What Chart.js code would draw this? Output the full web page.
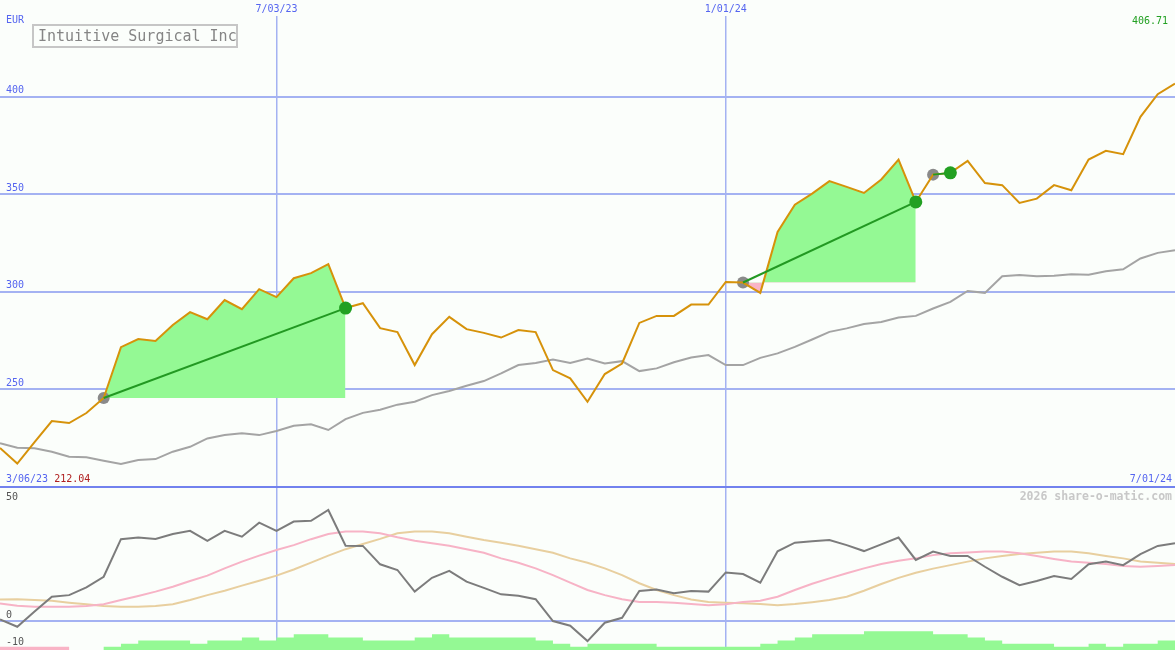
<!DOCTYPE html>
<html>
<head>
<meta charset="utf-8">
<title>Intuitive Surgical Inc</title>
<script src="https://cdn.jsdelivr.net/npm/chart.js@4.4.1/dist/chart.umd.min.js"></script>
<style>
  html, body { margin: 0; padding: 0; background: #fbfefb; }
  #wrap { position: relative; width: 1175px; height: 650px; overflow: hidden; font-family: "DejaVu Sans Mono", monospace; }
  canvas { position: absolute; left: 0; }
  #priceChart { top: 0; }
  #oscChart { top: 485px; }
  .lbl { position: absolute; font-size: 10px; line-height: 12px; white-space: nowrap; color: #5565f0; }
  #title { position: absolute; left: 32px; top: 24px; width: 206px; height: 24px; box-sizing: border-box;
           border: 2px solid #c6c6c6; color: #858585; font-size: 15px; line-height: 20px; padding-left: 4px; white-space: nowrap; }
  #mark { position: absolute; right: 3px; top: 489px; font-size: 11.5px; line-height: 14px; font-weight: bold; color: #c8c8c8; }
</style>
</head>
<body>
<div id="wrap">
  <canvas id="priceChart" width="1175" height="487"></canvas>
  <canvas id="oscChart" width="1175" height="165"></canvas>
  <div id="title">Intuitive Surgical Inc</div>
  <div class="lbl" style="left:6px;top:14px">EUR</div>
  <div class="lbl" id="lastPx" style="right:7px;top:15px;color:#22a022"></div>
  <div class="lbl" style="left:6px;top:473px"><span id="startLbl"></span> <span id="minPx" style="color:#b02020"></span></div>
  <div class="lbl" id="endLbl" style="right:3px;top:473px"></div>
  <div class="lbl" style="left:6px;top:491px;color:#555">50</div>
  <div id="mark">2026 share-o-matic.com</div>
</div>
<script>
// weekly closes, EUR
const price = [220.0, 212.04, 223.0, 233.8, 232.8, 237.9, 245.6, 271.7, 275.8, 274.8,
    283.0, 289.6, 286.0, 295.8, 291.1, 301.4, 297.3, 307.0, 309.6, 314.2,
    291.7, 294.2, 281.4, 279.4, 262.5, 278.3, 287.2, 280.9, 279.0, 276.6,
    280.4, 279.4, 259.9, 255.7, 243.7, 257.9, 263.3, 284.1, 287.7, 287.7,
    293.5, 293.5, 305.1, 304.8, 299.5, 330.7, 344.7, 350.4, 356.8, 353.8,
    350.7, 357.6, 367.8, 346.1, 360.1, 361.0, 367.1, 355.8, 354.7, 345.6,
    347.8, 354.7, 352.1, 367.8, 372.3, 370.6, 389.7, 401.3, 406.71];
// moving average (grey)
const avg = [222.4, 220.1, 219.8, 218.1, 215.5, 215.2, 213.5, 211.8, 213.8, 214.3,
    218.1, 220.6, 224.9, 226.6, 227.5, 226.6, 228.7, 231.4, 232.1, 229.2,
    234.8, 238.0, 239.6, 242.2, 243.7, 247.1, 249.2, 251.9, 254.3, 258.2,
    262.5, 263.6, 265.4, 263.6, 265.9, 263.3, 264.5, 259.4, 260.8, 263.9,
    266.4, 267.6, 262.5, 262.5, 266.2, 268.5, 271.8, 275.6, 279.5, 281.3,
    283.5, 284.6, 286.9, 287.7, 291.5, 294.9, 300.5, 299.5, 308.0, 308.6,
    308.0, 308.3, 309.1, 308.8, 310.6, 311.6, 317.1, 320.0, 321.4];
// lower panel
const osc = [0.6, -2.1, 3.5, 9.0, 9.6, 12.5, 16.4, 30.3, 30.9, 30.4,
    32.2, 33.4, 29.7, 33.4, 31.2, 36.4, 33.4, 36.8, 37.1, 41.1,
    27.9, 27.8, 21.0, 18.9, 10.9, 16.0, 18.6, 14.6, 12.3, 9.9,
    9.4, 8.1, 0.0, -1.7, -7.4, -0.6, 1.2, 11.1, 11.7, 10.3,
    11.1, 10.9, 18.0, 17.4, 14.2, 25.8, 29.0, 29.5, 30.0, 28.1,
    25.9, 28.4, 30.9, 22.6, 25.7, 24.1, 24.1, 20.1, 16.4, 13.3,
    14.8, 16.7, 15.6, 21.0, 22.0, 20.7, 24.8, 27.8, 28.8];
const oscFast = [6.5, 5.7, 5.3, 5.3, 5.3, 5.6, 6.2, 7.8, 9.3, 10.9,
    12.7, 14.8, 16.8, 19.5, 22.0, 24.2, 26.3, 28.1, 30.3, 32.2,
    33.1, 33.1, 32.5, 31.0, 29.7, 28.8, 27.9, 26.6, 25.3, 23.2,
    21.6, 19.5, 17.0, 14.2, 11.5, 9.6, 8.1, 7.1, 7.1, 6.8,
    6.3, 5.9, 6.2, 7.1, 7.5, 9.0, 11.5, 13.8, 15.8, 17.7,
    19.5, 21.1, 22.3, 23.2, 24.4, 25.1, 25.4, 25.7, 25.7, 25.1,
    24.1, 23.0, 22.0, 21.6, 21.1, 20.4, 20.1, 20.4, 20.7];
const oscSlow = [8.0, 8.1, 7.8, 7.5, 6.8, 6.2, 5.6, 5.3, 5.3, 5.6,
    6.2, 7.8, 9.6, 11.2, 13.1, 14.9, 16.8, 19.1, 21.6, 24.2,
    26.6, 28.5, 30.4, 32.5, 33.1, 33.1, 32.5, 31.2, 30.0, 29.0,
    27.9, 26.6, 25.3, 23.2, 21.6, 19.5, 17.0, 14.0, 11.5, 9.6,
    8.0, 7.1, 6.8, 6.6, 6.3, 5.9, 6.3, 7.0, 7.8, 9.0,
    11.2, 13.7, 16.0, 17.9, 19.4, 20.7, 22.0, 23.2, 24.1, 24.8,
    25.3, 25.7, 25.7, 25.1, 24.1, 23.2, 22.0, 21.6, 21.1];
// histogram strength, negative = pink
const hist = [-1, -1, -1, -1, 0, 0, 1, 2, 3, 3,
    3, 2, 3, 3, 4, 3, 4, 5, 5, 4,
    4, 3, 3, 3, 4, 5, 4, 4, 4, 4,
    4, 3, 2, 1, 2, 2, 2, 2, 1, 1,
    1, 1, 1, 1, 2, 3, 4, 5, 5, 5,
    6, 6, 6, 6, 5, 5, 4, 3, 2, 2,
    2, 1, 1, 2, 1, 2, 2, 3, 3];
// trades (week index)
const buys = [6, 43, 54];
const sells = [20, 53, 55];
const priceTicks = [250, 300, 350, 400];
const oscTicks = [-10, 0];
const dateTicks = [16, 42];
const dateLabels = ['7/03/23', '1/01/24'];
const startLabel = '3/06/23';
const endLabel = '7/01/24';

const gridBlue = '#a4b2f2';
const greenFill = '#94f994';
const pinkFill = '#f9b4c6';

const pts = arr => arr.map((v, i) => ({x: i, y: v}));
const at = i => ({x: i, y: price[i]});

// y tick labels drawn inside the plot, just above their grid line
const tickText = {
    id: 'tickText',
    afterDraw(chart, args, opts) {
        const ax = chart.scales.y;
        const ctx = chart.ctx;
        ctx.save();
        ctx.font = '10px "DejaVu Sans Mono"';
        ctx.fillStyle = opts.color;
        ctx.textBaseline = 'middle';
        ax.ticks.forEach(t => ctx.fillText(String(t.value), 6, ax.getPixelForValue(t.value) - 6));
        ctx.restore();
    }
};

const xAxis = {
    type: 'linear', min: 0, max: price.length - 1,
    afterBuildTicks: ax => { ax.ticks = dateTicks.map(v => ({value: v})); },
    ticks: {display: false},
    border: {display: false},
    grid: {color: gridBlue, lineWidth: 1.5, drawTicks: false}
};
const elements = {point: {radius: 0, borderWidth: 0}, line: {tension: 0, fill: false}};

// upper panel
const upperSets = [
    {data: pts(price), borderColor: '#d6920a', borderWidth: 2, order: 3},
    {data: pts(avg), borderColor: '#a4a4a4', borderWidth: 2, order: 6}
];
buys.forEach((b, k) => {
    const s = sells[k];
    upperSets.push({
        data: pts(price).slice(b, s + 1),
        borderWidth: 0, borderColor: 'transparent',
        fill: {target: {value: price[b]}, above: greenFill, below: pinkFill},
        order: 5
    });
    upperSets.push({data: [at(b), at(s)], borderColor: '#229922', borderWidth: 2, order: 2});
});
// entry dots sit under the lines, exit dots on top
upperSets.push({data: buys.map(at), showLine: false, pointRadius: 6, pointBackgroundColor: '#8a8a8a', order: 4});
upperSets.push({data: sells.map(at), showLine: false, pointRadius: 6.5, pointBackgroundColor: '#22a022', order: 1});

const upper = new Chart(document.getElementById('priceChart'), {
    type: 'line',
    data: {datasets: upperSets},
    options: {
        responsive: false,
        animation: false,
        elements: elements,
        layout: {autoPadding: false, padding: {top: 16}},
        plugins: {legend: {display: false}, tooltip: {enabled: false}, tickText: {color: '#5565f0'}},
        scales: {
            x: xAxis,
            y: {
                min: 200, max: 441.4,
                afterBuildTicks: ax => { ax.ticks = priceTicks.map(v => ({value: v})); },
                ticks: {display: false},
                border: {display: false},
                grid: {color: gridBlue, lineWidth: 2, drawTicks: false}
            }
        }
    },
    plugins: [tickText]
});

// lower panel
const topRule = {
    id: 'topRule',
    afterDatasetsDraw(chart) {
        const {ctx, chartArea} = chart;
        ctx.save();
        ctx.strokeStyle = '#7282ee';
        ctx.lineWidth = 2;
        ctx.beginPath();
        ctx.moveTo(chartArea.left, chartArea.top);
        ctx.lineTo(chartArea.right, chartArea.top);
        ctx.stroke();
        ctx.restore();
    }
};

const lower = new Chart(document.getElementById('oscChart'), {
    type: 'line',
    data: {
        datasets: [
            {data: pts(osc), borderColor: '#7c7c7c', borderWidth: 2, order: 1},
            {data: pts(oscFast), borderColor: '#f7b3c6', borderWidth: 2, order: 2},
            {data: pts(oscSlow), borderColor: '#e8cf9f', borderWidth: 2, order: 3},
            {data: pts(hist.map(v => Math.max(v, 0))), yAxisID: 'yh', stepped: true,
             borderWidth: 0, borderColor: 'transparent', backgroundColor: greenFill, fill: 'origin', order: 5},
            {data: pts(hist.map(v => Math.max(-v, 0))), yAxisID: 'yh', stepped: true,
             borderWidth: 0, borderColor: 'transparent', backgroundColor: pinkFill, fill: 'origin', order: 5}
        ]
    },
    options: {
        responsive: false,
        animation: false,
        elements: elements,
        layout: {autoPadding: false, padding: {top: 2}},
        plugins: {legend: {display: false}, tooltip: {enabled: false}, tickText: {color: '#555555'}},
        scales: {
            x: xAxis,
            y: {
                min: -10.7, max: 49.6,
                afterBuildTicks: ax => { ax.ticks = oscTicks.map(v => ({value: v})); },
                ticks: {display: false},
                border: {display: false},
                grid: {color: c => (c.tick && c.tick.value === 0) ? gridBlue : 'rgba(0,0,0,0)', lineWidth: 2, drawTicks: false}
            },
            yh: {display: false, min: 0, max: 52}
        }
    },
    plugins: [topRule, tickText]
});

// texts
const wrap = document.getElementById('wrap');
dateTicks.forEach((v, k) => {
    const d = document.createElement('div');
    d.className = 'lbl';
    d.textContent = dateLabels[k];
    d.style.left = upper.scales.x.getPixelForValue(v) + 'px';
    d.style.top = '3px';
    d.style.transform = 'translateX(-50%)';
    wrap.appendChild(d);
});
document.getElementById('lastPx').textContent = price[price.length - 1].toFixed(2);
document.getElementById('minPx').textContent = Math.min(...price).toFixed(2);
document.getElementById('startLbl').textContent = startLabel;
document.getElementById('endLbl').textContent = endLabel;
</script>
</body>
</html>
